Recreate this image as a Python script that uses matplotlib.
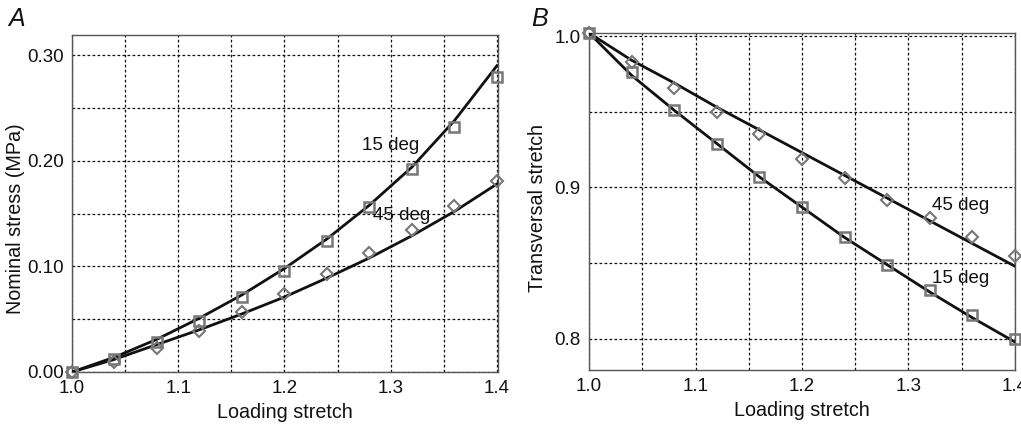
import matplotlib
matplotlib.use("Agg")
import matplotlib.pyplot as plt
from matplotlib.ticker import MultipleLocator

plt.rcParams["font.family"] = ["Liberation Sans", "DejaVu Sans"]

INK = "#111111"
MARK = "#777777"
FS = 13.5
FS_LABEL = 14.2

stretch = [1.0, 1.04, 1.08, 1.12, 1.16, 1.20, 1.24, 1.28, 1.32, 1.36, 1.40]

# panel A: nominal stress (MPa)
stress_15_data = [0.0, 0.012, 0.028, 0.048, 0.071, 0.096, 0.124, 0.156, 0.192, 0.232, 0.279]
stress_45_data = [0.0, 0.009, 0.023, 0.039, 0.057, 0.074, 0.093, 0.113, 0.134, 0.157, 0.181]
stress_15_fit = [0.0, 0.014, 0.031, 0.051, 0.073, 0.098, 0.126, 0.158, 0.194, 0.238, 0.290]
stress_45_fit = [0.0, 0.012, 0.026, 0.040, 0.055, 0.071, 0.089, 0.108, 0.129, 0.152, 0.178]

# panel B: transversal stretch
trans_15_data = [1.002, 0.976, 0.951, 0.929, 0.907, 0.887, 0.867, 0.849, 0.832, 0.816, 0.800]
trans_45_data = [1.002, 0.983, 0.966, 0.950, 0.935, 0.919, 0.906, 0.892, 0.880, 0.867, 0.855]
trans_15_fit = [1.002, 0.974, 0.951, 0.929, 0.907, 0.887, 0.867, 0.849, 0.831, 0.814, 0.798]
trans_45_fit = [1.002, 0.984, 0.969, 0.953, 0.938, 0.923, 0.908, 0.893, 0.878, 0.863, 0.848]


def style_axes(ax, yfmt):
    ax.xaxis.set_major_locator(MultipleLocator(0.1))
    ax.xaxis.set_minor_locator(MultipleLocator(0.05))
    ax.yaxis.set_major_locator(MultipleLocator(0.1))
    ax.yaxis.set_minor_locator(MultipleLocator(0.05))
    ax.xaxis.set_major_formatter(lambda v, p: f"{v:.1f}")
    ax.yaxis.set_major_formatter(lambda v, p: yfmt.format(v))
    ax.grid(True, which="both", color=INK, linestyle=(0, (2.2, 1.8)), linewidth=0.9)
    ax.set_axisbelow(True)
    ax.tick_params(which="both", length=0, labelsize=FS, colors=INK, pad=6)
    for spine in ax.spines.values():
        spine.set_color("#555555")
        spine.set_linewidth(1.0)
    ax.set_xlabel("Loading stretch", fontsize=FS_LABEL, color=INK, labelpad=4)


def draw(ax, x, data15, data45, fit15, fit45):
    ax.plot(x, fit15, color=INK, linewidth=2.0, zorder=3)
    ax.plot(x, fit45, color=INK, linewidth=2.0, zorder=3)
    ax.plot(x, data15, linestyle="none", marker="s", markersize=7,
            markerfacecolor="none", markeredgecolor=MARK, markeredgewidth=1.8,
            zorder=4, clip_on=False)
    ax.plot(x, data45, linestyle="none", marker="D", markersize=6,
            markerfacecolor="none", markeredgecolor=MARK, markeredgewidth=1.5,
            zorder=4, clip_on=False)


fig = plt.figure(figsize=(10.21, 4.30), dpi=100)

ax_a = fig.add_axes([0.0705, 0.1349, 0.4173, 0.7837])
draw(ax_a, stretch, stress_15_data, stress_45_data, stress_15_fit, stress_45_fit)
ax_a.set_xlim(1.0, 1.401)
ax_a.set_ylim(0.0, 0.319)
style_axes(ax_a, "{:.2f}")
ax_a.set_ylabel("Nominal stress (MPa)", fontsize=FS_LABEL, color=INK)
ax_a.yaxis.set_label_coords(-0.11, 0.454)
ax_a.text(1.273, 0.210, "15 deg", fontsize=FS, color=INK)
ax_a.text(1.283, 0.144, "45 deg", fontsize=FS, color=INK)
fig.text(0.008, 0.94, "A", fontsize=18, style="italic", color=INK)

ax_b = fig.add_axes([0.5769, 0.1395, 0.4172, 0.7838])
draw(ax_b, stretch, trans_15_data, trans_45_data, trans_15_fit, trans_45_fit)
ax_b.set_xlim(1.0, 1.4)
ax_b.set_ylim(0.7795, 1.002)
style_axes(ax_b, "{:.1f}")
ax_b.set_ylabel("Transversal stretch", fontsize=FS_LABEL, color=INK)
ax_b.yaxis.set_label_coords(-0.098, 0.48)
ax_b.text(1.322, 0.885, "45 deg", fontsize=FS, color=INK)
ax_b.text(1.322, 0.837, "15 deg", fontsize=FS, color=INK)
fig.text(0.52, 0.94, "B", fontsize=18, style="italic", color=INK)

fig.savefig("out.png", dpi=100, facecolor="white")
